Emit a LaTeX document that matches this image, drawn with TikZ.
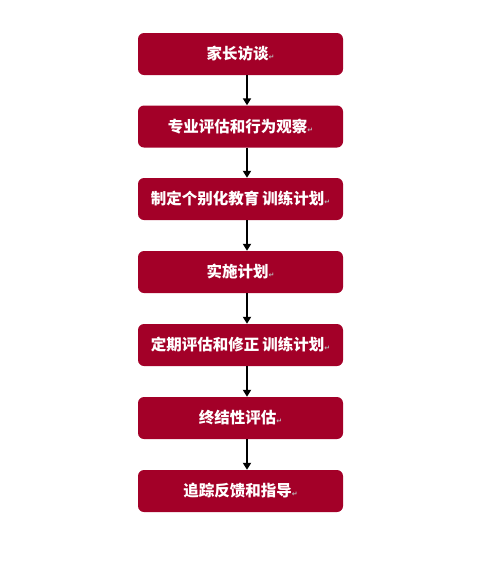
\documentclass[tikz,border=0pt]{standalone}
\usepackage{fontspec}
\newfontfamily\cjk{Noto Sans CJK SC}
\newfontfamily\markfont{DejaVu Sans}
\usepackage{tikz}
\usetikzlibrary{arrows,arrows.meta,%
                shapes,positioning}
\definecolor{boxred}{RGB}{163,0,40}
\newcommand{\pmark}{{\markfont\fontsize{7}{7}\selectfont\textcolor{gray!55}{↵}}}

\begin{document}
\begin{tikzpicture}[x=1pt,y=-1pt]
\tikzset{stepbox/.style={draw=none, fill=boxred, rounded corners=6pt,
    minimum width=205pt, minimum height=42pt, inner sep=0pt,
    text=white, font=\cjk\bfseries\fontsize{15.5}{15.5}\selectfont},
  flow/.style={line width=1.9pt, -{Triangle[width=8pt,length=7pt]}}}
\useasboundingbox (0,0) rectangle (489,566);
%\fill[white] (0,0) rectangle (489,566);
\node[stepbox] (visit) at (240.5,54) {家长访谈\pmark};
\node[stepbox] (assess) at (240.5,126.5) {专业评估和行为观察\pmark};
\node[stepbox] (plan) at (240.5,199) {制定个别化教育\hspace{3pt}训练计划\pmark};
\node[stepbox] (run) at (240.5,272) {实施计划\pmark};
\node[stepbox] (revise) at (240.5,345) {定期评估和修正\hspace{3pt}训练计划\pmark};
\node[stepbox] (final) at (240.5,418) {终结性评估\pmark};
\node[stepbox] (track) at (240.5,491) {追踪反馈和指导\pmark};
\draw[flow] ([xshift=6.5pt]visit.south) -- ([xshift=6.5pt]assess.north);
\draw[flow] ([xshift=6.5pt]assess.south) -- ([xshift=6.5pt]plan.north);
\draw[flow] ([xshift=6.5pt]plan.south) -- ([xshift=6.5pt]run.north);
\draw[flow] ([xshift=6.5pt]run.south) -- ([xshift=6.5pt]revise.north);
\draw[flow] ([xshift=6.5pt]revise.south) -- ([xshift=6.5pt]final.north);
\draw[flow] ([xshift=6.5pt]final.south) -- ([xshift=6.5pt]track.north);
\end{tikzpicture}
\end{document}
